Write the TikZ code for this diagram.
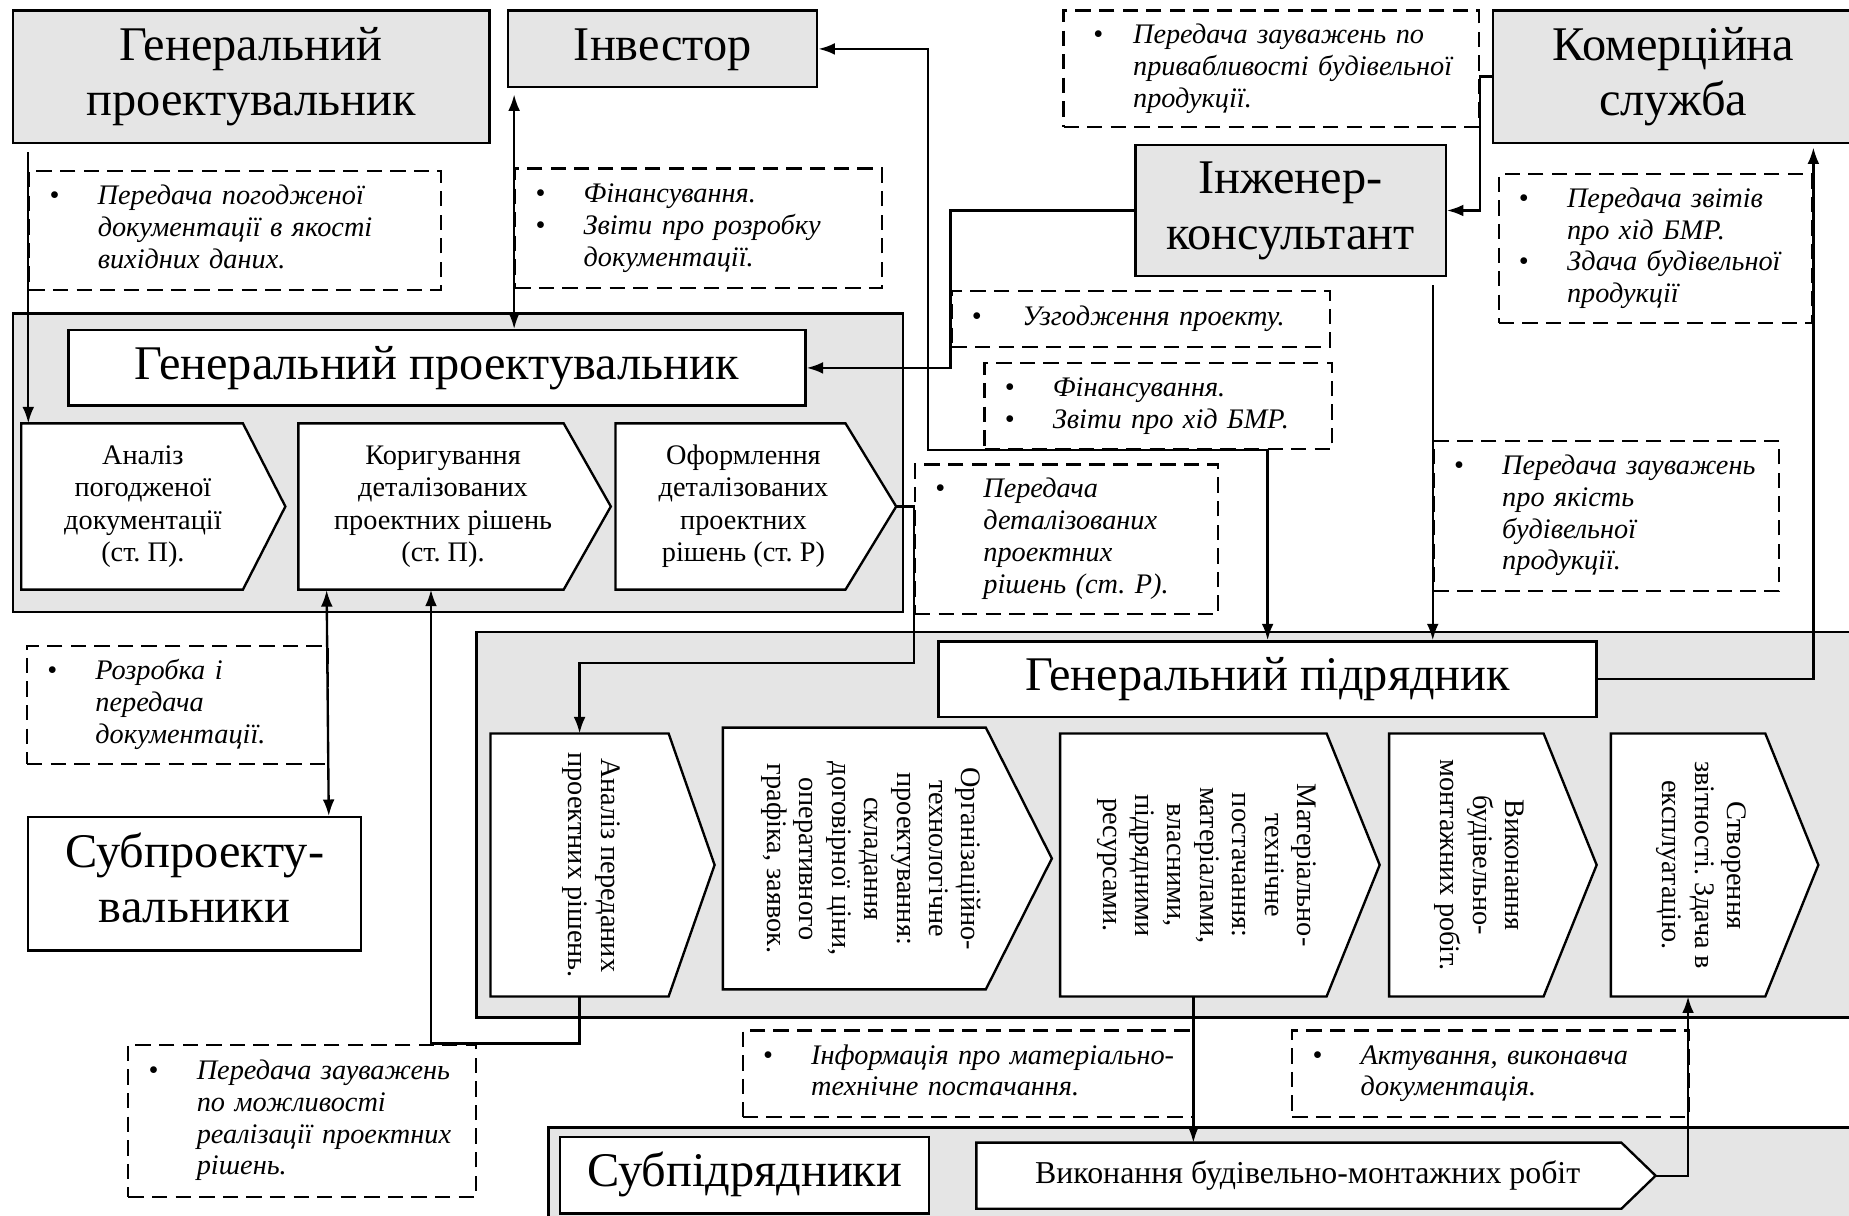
\documentclass[tikz,border=0pt]{standalone}
\usepackage{fontspec}
\setmainfont{Liberation Serif}
\usetikzlibrary{arrows.meta,calc}
\frenchspacing

% centred text block set a little below the middle of its box
\newcommand\lowtext[2]{\raisebox{-#1}{\begin{tabular}{@{}c@{}}#2\end{tabular}}}
% horizontal chevron: name, x, y, body width, height, tip length, text
\newcommand\chevh[7]{%
  \draw[chvline] (#2,#3) -- ++(#4,0) -- ++(#6,#5/2) -- ++(-#6,#5/2) -- ++(-#4,0) -- cycle;
  \node[chtxt, anchor=north west, minimum width=#4+#6/2, minimum height=#5] (#1) at (#2,#3) {#7};
  \coordinate (#1-n) at ($(#2,#3)+(#4/2,0)$);
  \coordinate (#1-s) at ($(#2,#3)+(#4/2,#5)$);
  \coordinate (#1-tip) at ($(#2,#3)+(#4+#6,#5/2)$);
}
% chevron with its text turned to run downwards
\newcommand\chevv[7]{%
  \chevh{#1}{#2}{#3}{#4}{#5}{#6}{\rotatebox{-90}{\begin{tabular}{@{}c@{}}#7\end{tabular}}}%
}
% bulleted note text
\newcommand\blist[2][41pt]{\raisebox{-3pt}{\begin{tabular}{@{}p{#1}@{}l@{}}#2\end{tabular}}}

\begin{document}
\begin{tikzpicture}[x=1pt,y=-1pt,
  ttl/.style={draw, line width=2pt, fill=black!10, inner sep=0pt, align=center,
    font=\fontsize{41}{47}\selectfont},
  wbox/.style={ttl, fill=white},
  cont/.style={draw, line width=2pt, fill=black!10, inner sep=0pt},
  dbox/.style={draw, line width=1.8pt, dash pattern=on 13pt off 7pt, inner xsep=17pt,
    inner ysep=0pt, align=left, anchor=north west, font=\fontsize{24}{27}\selectfont\itshape},
  chvline/.style={draw, line width=2pt, fill=white},
  chtxt/.style={inner sep=0pt, align=center, font=\fontsize{24}{27.5}\selectfont},
  link/.style={line width=2pt},
  arr/.style={link, -{Latex[length=14pt,width=10pt]}},
  darr/.style={link, {Latex[length=14pt,width=10pt]}-{Latex[length=14pt,width=10pt]}},
]
\useasboundingbox (0,0) rectangle (1568,1031);

% grey group panels
\node[cont, anchor=north west, minimum width=755, minimum height=253] (gpc) at (10,265) {};
\node[cont, anchor=north west, minimum width=1180, minimum height=327] (gpdc) at (403,535) {};
\node[cont, anchor=north west, minimum width=1120, minimum height=110] (subc) at (464,955) {};

% participants
\node[ttl, anchor=north west, minimum width=404, minimum height=112] (gp) at (10,8) {\lowtext{5pt}{Генеральний\\проектувальник}};
\node[ttl, anchor=north west, minimum width=262, minimum height=65] (inv) at (430,8) {\lowtext{5pt}{Інвестор}};
\node[ttl, anchor=north west, minimum width=306, minimum height=112] (kom) at (1265,8) {\lowtext{5pt}{Комерційна\\служба}};
\node[ttl, anchor=north west, minimum width=263, minimum height=111] (inz) at (962,122) {\lowtext{5pt}{Інженер-\\консультант}};
\node[wbox, anchor=north west, minimum width=625, minimum height=64] (gpi) at (57,279) {\lowtext{4pt}{Генеральний проектувальник}};
\node[wbox, anchor=north west, minimum width=558, minimum height=64] (gpd) at (795,543) {\lowtext{4pt}{Генеральний підрядник}};
\node[wbox, anchor=north west, minimum width=282, minimum height=113] (subp) at (23,692) {\lowtext{2pt}{Субпроекту-\\вальники}};
\node[wbox, anchor=north west, minimum width=313, minimum height=65] (subd) at (474,963) {\lowtext{4pt}{Субпідрядники}};

% design stages
\chevh{c1}{18}{359}{188}{141}{36}{\lowtext{2.5pt}{Аналіз\\погодженої\\документації\\(ст. П).}}
\chevh{c2}{253}{359}{225}{141}{40}{\lowtext{2.5pt}{Коригування\\деталізованих\\проектних рішень\\(ст. П).}}
\chevh{c3}{522}{359}{195}{141}{43}{\lowtext{2.5pt}{Оформлення\\деталізованих\\проектних\\рішень (ст. Р)}}

% construction stages
\chevv{a1}{416}{622}{151}{223}{39}{Аналіз переданих\\проектних рішень.}
\chevv{a2}{613}{617}{223}{222}{56}{Організаційно-\\технологічне\\проектування:\\складання\\договірної ціни,\\оперативного\\графіка, заявок.}
\chevv{a3}{899}{622}{226}{223}{45}{Матеріально-\\технічне\\постачання:\\матеріалами,\\власними,\\підрядними\\ресурсами.}
\chevv{a4}{1178}{622}{131}{223}{45}{Виконання\\будівельно-\\монтажних робіт.}
\chevv{a5}{1366}{622}{131}{223}{45}{Створення\\звітності. Здача в\\експлуатацію.}

% subcontractor work
\begingroup
\tikzset{chtxt/.append style={font=\fontsize{27}{30}\selectfont}}
\chevh{bch}{828}{969}{547}{56}{29}{Виконання будівельно-монтажних робіт}
\endgroup

% information notes
\node[dbox, text width=315pt, minimum height=101] (dPog) at (24,144)
  {\blist{\textbullet & Передача погодженої\\ & документації в якості\\ & вихідних даних.}};
\node[dbox, text width=277pt, minimum height=101] (dFinA) at (436,142)
  {\blist{\textbullet & Фінансування.\\ \textbullet & Звіти про розробку\\ & документації.}};
\node[dbox, inner xsep=25pt, text width=302pt, minimum height=99] (dPryv) at (901,8)
  {\blist[34pt]{\textbullet & Передача зауважень по\\ & привабливості будівельної\\ & продукції.}};
\node[dbox, text width=232pt, minimum height=126] (dZvit) at (1270,147)
  {\blist{\textbullet & Передача звітів\\ & про хід БМР.\\ \textbullet & Здача будівельної\\ & продукції}};
\node[dbox, text width=287pt, minimum height=47] (dUzg) at (806,246)
  {\blist[43pt]{\textbullet & Узгодження проекту.}};
\node[dbox, text width=261pt, minimum height=73] (dFinB) at (834,307)
  {\blist{\textbullet & Фінансування.\\ \textbullet & Звіти про хід БМР.}};
\node[dbox, text width=223pt, minimum height=127] (dDet) at (775,393)
  {\blist{\textbullet & Передача\\ & деталізованих\\ & проектних\\ & рішень (ст. Р).}};
\node[dbox, text width=259pt, minimum height=127] (dYak) at (1215,373)
  {\blist{\textbullet & Передача зауважень\\ & про якість\\ & будівельної\\ & продукції.}};
\node[dbox, text width=221pt, minimum height=100] (dRozr) at (22,547)
  {\blist{\textbullet & Розробка і\\ & передача\\ & документації.}};
\node[dbox, text width=261pt, minimum height=129] (dMozh) at (108,885)
  {\blist{\textbullet & Передача зауважень\\ & по можливості\\ & реалізації проектних\\ & рішень.}};
\node[dbox, text width=349pt, minimum height=73] (dInf) at (629,873)
  {\blist{\textbullet & Інформація про матеріально-\\ & технічне постачання.}};
\node[dbox, text width=302pt, minimum height=73] (dAkt) at (1095,873)
  {\blist{\textbullet & Актування, виконавча\\ & документація.}};

% connections
\coordinate (invbend) at ($(dFinB.south west)+(-47,0)$);
\coordinate (gpdin) at ($(gpd.north west)+(280,0)$);
\draw[arr] ($(dPog.west |- gp.south)+(0,7)$) -- (dPog.west |- c1.north);
\draw[darr] ($(dFinA.west |- inv.south)+(0,5)$) -- (dFinA.west |- gpi.north);
\draw[arr] (kom.west) -| (dPryv.east |- inz.east) -- (inz.east);
\draw[arr] (inz.west) -| (dUzg.west |- gpi.east) -- (gpi.east);
\draw[darr] (inv.east) -| (invbend) -| (gpdin);
\draw[arr] ($(dYak.west |- inz.south)+(0,7)$) -- (dYak.west |- gpd.north);
\draw[arr, shorten >=3pt] (gpd.east) -| (dZvit.east |- kom.south);
\draw[arr] (c3-tip) -- (c3-tip -| dDet.west) -- ++(0,133) -| (a1-n);
\draw[darr] ($(c2.south west)+(24,0)$) -- (subp.north -| dRozr.east);
\draw[arr] (a1-s) -- (a1-s |- dMozh.north) -| (c2-s);
\draw[arr] (a3-s) -- (a3-s |- bch.north);
\draw[arr] (bch-tip) -| (a5-s);
\end{tikzpicture}
\end{document}
